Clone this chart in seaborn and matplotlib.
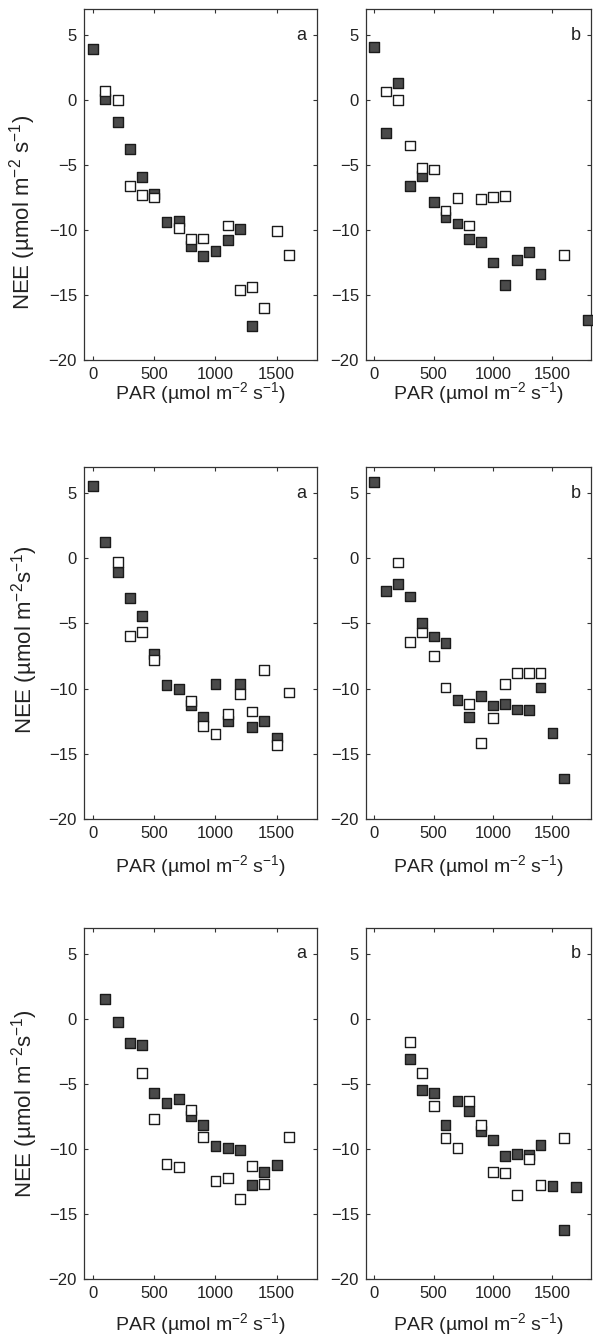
import numpy as np
import pandas as pd
import matplotlib
matplotlib.use('Agg')
import matplotlib.pyplot as plt
import seaborn as sns

# ---------- data: PAR bins and NEE ----------
# row 1
par_1a_dark = [0, 100, 200, 300, 400, 500, 600, 700, 800, 900, 1000, 1100, 1200, 1300]
nee_1a_dark = [3.9, 0.1, -1.7, -3.75, -5.9, -7.2, -9.4, -9.3, -11.25, -12.0, -11.6, -10.8, -9.9, -17.4]
par_1a_open = [100, 200, 300, 400, 500, 700, 800, 900, 1100, 1200, 1300, 1400, 1500, 1600]
nee_1a_open = [0.7, 0.0, -6.6, -7.3, -7.5, -9.85, -10.7, -10.65, -9.65, -14.6, -14.4, -16.0, -10.1, -11.9]

par_1b_dark = [0, 100, 200, 300, 400, 500, 600, 700, 800, 900, 1000, 1100, 1200, 1300, 1400, 1800]
nee_1b_dark = [4.05, -2.55, 1.3, -6.6, -5.85, -7.85, -9.0, -9.5, -10.7, -10.9, -12.5, -14.25, -12.3, -11.7, -13.4, -16.95]
par_1b_open = [100, 200, 300, 400, 500, 600, 700, 800, 900, 1000, 1100, 1600]
nee_1b_open = [0.65, 0.0, -3.5, -5.25, -5.35, -8.5, -7.55, -9.65, -7.6, -7.45, -7.4, -11.9]

# row 2
par_2a_dark = [0, 100, 200, 300, 400, 500, 600, 700, 800, 900, 1000, 1100, 1200, 1300, 1400, 1500]
nee_2a_dark = [5.56, 1.25, -1.07, -3.04, -4.42, -7.34, -9.72, -10.03, -11.25, -12.2, -9.67, -12.5, -9.64, -12.97, -12.5, -13.75]
par_2a_open = [200, 300, 400, 500, 800, 900, 1000, 1100, 1200, 1300, 1400, 1500, 1600]
nee_2a_open = [-0.3, -5.96, -5.65, -7.83, -10.95, -12.84, -13.5, -11.97, -10.4, -11.76, -8.57, -14.3, -10.3]

par_2b_dark = [0, 100, 200, 300, 400, 500, 600, 700, 800, 900, 1000, 1100, 1200, 1300, 1400, 1500, 1600]
nee_2b_dark = [5.82, -2.5, -2.0, -2.94, -4.95, -6.0, -6.52, -10.87, -12.2, -10.56, -11.3, -11.2, -11.6, -11.64, -9.92, -13.4, -16.9]
par_2b_open = [200, 300, 400, 500, 600, 800, 900, 1000, 1100, 1200, 1300, 1400]
nee_2b_open = [-0.33, -6.42, -5.7, -7.5, -9.92, -11.2, -14.14, -12.28, -9.62, -8.77, -8.77, -8.77]

# row 3
par_3a_dark = [100, 200, 300, 400, 500, 600, 700, 800, 900, 1000, 1100, 1200, 1300, 1400, 1500]
nee_3a_dark = [1.54, -0.2, -1.82, -2.0, -5.69, -6.44, -6.13, -7.49, -8.15, -9.8, -9.92, -10.08, -12.8, -11.77, -11.2]
par_3a_open = [400, 500, 600, 700, 800, 900, 1000, 1100, 1200, 1300, 1400, 1600]
nee_3a_open = [-4.13, -7.69, -11.13, -11.38, -6.97, -9.05, -12.46, -12.2, -13.85, -11.28, -12.7, -9.1]

par_3b_dark = [300, 400, 500, 600, 700, 800, 900, 1000, 1100, 1200, 1300, 1400, 1500, 1600, 1700]
nee_3b_dark = [-3.05, -5.48, -5.69, -8.15, -6.28, -7.1, -8.64, -9.3, -10.56, -10.38, -10.49, -9.72, -12.87, -16.2, -12.95]
par_3b_open = [300, 400, 500, 600, 700, 800, 900, 1000, 1100, 1200, 1300, 1400, 1600]
nee_3b_open = [-1.79, -4.18, -6.67, -9.15, -9.95, -6.28, -8.18, -11.74, -11.84, -13.56, -10.77, -12.8, -9.15]

x_ticks = [0, 500, 1000, 1500]
y_ticks = [5, 0, -5, -10, -15, -20]
panel_letters = ['a', 'b']

xlabel = 'PAR (µmol m$^{-2}$ s$^{-1}$)'
ylabels = ['NEE (µmol m$^{-2}$ s$^{-1}$)',
           'NEE (µmol m$^{-2}$s$^{-1}$)',
           'NEE (µmol m$^{-2}$s$^{-1}$)']

panels = [
    [(par_1a_dark, nee_1a_dark, par_1a_open, nee_1a_open),
     (par_1b_dark, nee_1b_dark, par_1b_open, nee_1b_open)],
    [(par_2a_dark, nee_2a_dark, par_2a_open, nee_2a_open),
     (par_2b_dark, nee_2b_dark, par_2b_open, nee_2b_open)],
    [(par_3a_dark, nee_3a_dark, par_3a_open, nee_3a_open),
     (par_3b_dark, nee_3b_dark, par_3b_open, nee_3b_open)],
]

# ---------- style ----------
sns.set_style('ticks')
ink = '#222222'
plt.rcParams['font.family'] = ['Liberation Sans', 'DejaVu Sans']
plt.rcParams['mathtext.fontset'] = 'custom'
plt.rcParams['mathtext.rm'] = 'Liberation Sans'
plt.rcParams['mathtext.it'] = 'Liberation Sans:italic'
plt.rcParams['mathtext.bf'] = 'Liberation Sans:bold'
plt.rcParams.update({
    'xtick.direction': 'in', 'ytick.direction': 'in',
    'xtick.top': True, 'ytick.right': True,
    'xtick.major.size': 3, 'ytick.major.size': 3,
    'xtick.major.width': 0.8, 'ytick.major.width': 0.8,
    'axes.linewidth': 0.9, 'axes.edgecolor': '#333333',
    'xtick.color': '#333333', 'ytick.color': '#333333',
    'text.color': ink, 'axes.labelcolor': ink,
    'xtick.labelcolor': ink, 'ytick.labelcolor': ink,
})

fig = plt.figure(figsize=(5.93, 13.37), dpi=100)

# axes boxes in pixels (left, right) and (top, bottom)
cols_px = [(84, 317), (366, 591)]
rows_px = [(9, 360), (467, 819), (928, 1279)]
xlims = [(-75, 1830), (-70, 1825)]
ylab_y = [0.42, 0.51, 0.50]
ylab_x = [-0.197, -0.189, -0.189]
xlab_off = [-0.057, -0.097, -0.091]

W, H = 593, 1337
for r, (top, bot) in enumerate(rows_px):
    for c, (lft, rgt) in enumerate(cols_px):
        ax = fig.add_axes([lft / W, (H - bot) / H, (rgt - lft) / W, (bot - top) / H])
        pd_, nd_, po_, no_ = panels[r][c]
        df = pd.concat([
            pd.DataFrame({'PAR': pd_, 'NEE': nd_, 'kind': 'dark'}),
            pd.DataFrame({'PAR': po_, 'NEE': no_, 'kind': 'open'}),
        ], ignore_index=True)
        sns.scatterplot(data=df, x='PAR', y='NEE', hue='kind',
                        palette={'dark': '#4a4a4a', 'open': 'white'},
                        marker='s', s=50, edgecolor='#1a1a1a', linewidth=1.0,
                        legend=False, ax=ax, clip_on=False, zorder=3)
        ax.set_xlim(*xlims[c])
        ax.set_ylim(-20, 7)
        ax.set_xticks(x_ticks)
        ax.set_yticks(y_ticks)
        ax.tick_params(labelsize=12, pad=5)
        ax.set_xlabel(xlabel, fontsize=14)
        ax.xaxis.set_label_coords(0.5, xlab_off[r])
        if c == 0:
            ax.set_ylabel(ylabels[r], fontsize=16)
            ax.yaxis.set_label_coords(ylab_x[r], ylab_y[r])
        else:
            ax.set_ylabel('')
        ax.text(1700, 5, panel_letters[c], fontsize=13, ha='center', va='center')
        for sp in ax.spines.values():
            sp.set_visible(True)

fig.savefig('out.png', dpi=100, facecolor='white')
